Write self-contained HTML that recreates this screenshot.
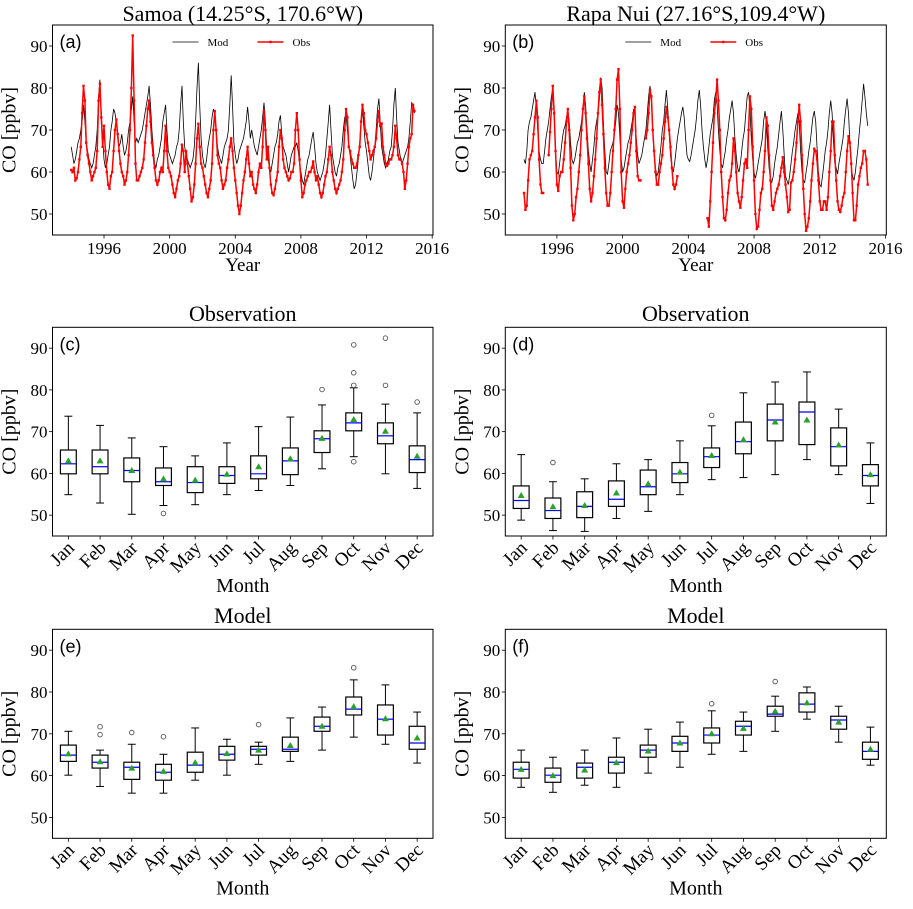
<!DOCTYPE html>
<html><head><meta charset="utf-8"><style>
html,body{margin:0;padding:0;background:#fff;}
svg text{font-family:"Liberation Serif",serif;fill:#000;}
</style></head><body>
<svg id="fig" xmlns="http://www.w3.org/2000/svg" width="913" height="904" viewBox="0 0 913 904"></svg>
<script>
const months=['Jan','Feb','Mar','Apr','May','Jun','Jul','Aug','Sep','Oct','Nov','Dec'];
const yTicks=[50,60,70,80,90];
const yearTicks=[1996,2000,2004,2008,2012,2016];
const startYear=1994;
const samoaObs=[
60.5,60,61,58,58.5,60,63,66,74,80.5,77,67,
64,62,60,58,59,60,61,65,77,81,73,66,
71,65,60,57,56,59,60,65,70,72.5,69,65,
62,60,59,57,58,60,64,70,80,92.5,77,62,
58,58,59,60,61,63,67,71,75,77,72,67,
64,61,58,57,58,60,61,60,65,71,65,61,
60,59,57,55,54,56,58,59,62,66.5,65,60,
65,62,59,56,53,54,57,62,68,71.5,66,62,
61,59,57,55,54,56,58,62,70,74.5,70,64,
62,61,58,56,57,58,61,63,66,68,65,61,
58,55,52,50,52,55,58,60,63,66,62,59,
60,57,56,55,57,60,62,61,66,74.5,70,63,
66,61,57,55,54.5,56,58,60,66,70,68,63,
61,60,59,58,58.5,60,60,62,70,74,70,63,
58,54,55,57,58,59,60,60,61,62.5,60,58,
59,57,55,54,55,57,59,60,63,66,64,60,
58,56,55,56,57,58,60,63,70,75,73,66,
65,63,62,61,61,62,64,66,72,76,74,70,
69,67,65,63,64,65,66,68,72,74.5,71,71.5,
66,64,62,61.5,62,63,63,64,66,71,68,64,
63,63,62,60,56,58,62,66,68,69,76,74.5];
const samoaMod=[
66,64,62,63,65,67,68,70,72,76,72,67,
65,63,62,61,62,64,66,70,78,82,74,68,
63,61,62,64,66,70,72,75,74,72,68,66,
67,69,66,64,65,67,70,72,75,78,72,67,
68,67,68,69,70,72,74,76,78,80.5,76,70,
66,62,61,63,64,66,68,72,74,76,70,65,
64,63,62,63,64,66,67,70,76,80.5,72,66,
64,63,62,61,62,63,66,72,80,86,76,68,
64,62,61,63,66,68,70,73,75,74,70,66,
64,63,62,64,66,67,68,70,76,83,76,67,
64,62,63,65,66,67,68,70,72,75.5,72,68,
70,68,66,65,64,66,68,70,73,76.5,72,66,
63,61,60,62,64,66,67,69,72,73.5,69,66,
65,64,62,60,62,64,65,66,66,67,65,62,
60,58,57,59,61,63,64,66,68,69.5,66,62,
60,59,58,59,60,62,64,68,72,76,70,64,
62,60,59,61,62,64,66,70,73,73.5,70,66,
64,61,58,56,57,60,63,67,72,75,71,67,
65,62,59,58,60,63,66,70,75,77.5,72,66,
64,62,61,62,63,65,66,70,76,80,73,67,
65,63,62,63,64,65,66,68,72,76.5,76,74];
const rapaObs=[
55,51,52,58,63,64,65,69,73,77,73,63,
57,55,55,null,null,null,64,69.5,75,80.5,74,65,
57,55.5,59,60,60,63,67,72,75,70,61,52,
48.5,50,54,56,60,64,70,75,78,74,68,62,
56,53,55,59,63,68,74,79,82,76,69,61,
55,52,52,55,60,65,70,75,82,84.5,75,60,
53,51.5,56,60,62,64,67,70,74,75.5,65,59,
58,58,null,null,null,68,70,74,79.5,78,70,65,
60,57,57,60,62,64,68,72,75.5,73,70,66,
61,57,56,57,59,null,null,null,null,null,null,null,
null,null,null,null,null,null,null,null,null,null,null,null,
null,null,49,47,53,60,67,74,77,82,77,70,
60,54,49,48.5,51,55,58,59,62,68,65,60,
55,53,51.5,54,58,62,63,61,70,78,75,66,
58,50,46.5,47,51,55,56,60,65,73,71,64,
58,52,51,53,55,56,57,59,61,63.5,60,57,
54,50.5,51,57.5,58,60,63,67,72,76,72,64,
56,50,46,47,49,53,58,62,65.5,65,63,58,
53,51,51,53,53,51,54,60,65,72,72,64,
58,53,51,50.5,52,54,55,60,65,68.5,67,62,
55,48.5,48.5,52,57,59,61,62,65,65,63,57];
const rapaMod=[
63,62,65,70,72,73,75,77,79,75,70,65,
63,62,62,65,68,70,72,75,78,80,73,65,
60,59.5,62,65,68,70,71,73,75,72,67,63,
62,63,65,67,68,70,72,75,79,76,70,65,
62,60,63,66,70,72,74,77,82.5,80,72,65,
60,59.5,62,65,66,67,69,72,76,74,68,63,
60,61,63,65,67,68,70,72,75,74,68,64,
62,63,64,66,68,70,74,78,80.5,77,70,64,
61,59,60,63,66,70,72,76,79.5,75,69,64,
61,60,62,65,68,70,72,74,75.5,73,68,64,
63,62.5,64,66,68,70,73,77,79.5,76,70,66,
63,61,63,66,69,71,73,77,79,76,70,65,
62,61,63,65,68,70,73,75,77,74,68,64,
61,60,62,65,68,70,74,78,79,75,68,63,
60,58.5,60,62,64,66,68,72,74.5,72,66,61,
58,57.5,59,62,64,66,69,72,74.5,70,64,59,
58,57,59,62,65,67,70,72,74,72,65,60,
58,57.5,60,62,65,67,70,73,74.5,72,66,60,
57,56.5,59,62,65,67,70,74,77,74,67,62,
61,59.5,62,64,66,68,72,75,77.5,74,67,61,
59,58,60,63,66,70,73,77,81,78,74,71];
const cLo=[54.9,52.9,50.2,52.3,52.5,54.9,55.9,57.1,61.1,64.0,59.9,56.4];
const cQ1=[59.9,59.9,58.0,57.1,55.4,57.6,58.7,59.7,65.0,70.2,67.1,60.2];
const cMed=[62.3,61.6,60.7,58.0,57.8,59.5,59.9,63.0,68.3,72.1,69.0,63.3];
const cQ3=[65.6,65.6,63.7,61.3,61.6,61.6,64.2,66.1,70.2,74.5,72.1,66.6];
const cHi=[73.7,71.5,68.5,66.4,64.2,67.3,71.2,73.5,76.4,80.5,76.6,74.5];
const cMean=[63.0,63.0,60.7,58.7,58.4,59.8,61.6,63.5,68.4,72.9,70.1,64.1];
const cOut=[[],[],[],[50.4],[],[],[],[],[80.1],[62.8,81.1,84.1,90.8],[81.1,92.4],[77.1]];
const dLo=[48.8,46.3,46.1,49.2,50.9,54.9,58.5,59.0,59.7,63.3,59.7,52.8];
const dQ1=[51.6,49.2,49.4,52.1,54.9,57.8,61.4,64.7,67.8,66.9,61.8,57.0];
const dMed=[53.5,51.1,52.1,53.8,56.8,59.9,64.0,67.6,72.8,74.7,66.4,59.5];
const dQ3=[57.0,54.1,55.6,58.2,60.8,62.6,66.1,72.3,76.6,77.1,70.9,62.1];
const dHi=[64.5,58.0,58.7,62.3,63.3,67.8,71.4,79.3,81.9,84.3,75.4,67.3];
const dMean=[54.7,52.0,52.3,55.3,57.5,60.3,64.3,68.1,72.3,72.8,66.8,59.7];
const dOut=[[],[62.6],[],[],[],[],[73.9],[],[],[],[],[]];
const eLo=[60.1,57.4,55.8,55.8,58.9,60.1,62.7,63.4,66.1,69.2,67.5,63.0];
const eQ1=[63.4,61.8,59.1,58.9,60.8,63.7,64.9,65.8,70.6,74.5,69.7,66.3];
const eMed=[64.9,63.2,62.0,60.8,62.5,65.1,66.3,66.3,71.8,75.9,73.5,67.8];
const eQ3=[67.3,64.9,63.2,62.7,65.6,67.0,67.0,69.2,74.0,78.8,76.9,71.8];
const eHi=[70.6,66.1,67.5,65.1,71.4,68.7,68.0,73.8,76.4,82.9,81.7,75.2];
const eMean=[65.2,63.3,61.8,61.0,63.1,65.3,66.1,67.2,71.8,76.5,73.6,69.0];
const eOut=[[],[69.8,71.7],[70.3],[69.3],[],[],[72.2],[],[],[85.8],[],[]];
const fLo=[57.2,56.0,57.7,57.2,60.6,62.0,65.1,65.8,70.6,73.5,68.0,62.5];
const fQ1=[59.4,58.4,59.4,60.6,64.4,65.8,67.8,69.7,74.2,75.2,71.1,63.9];
const fMed=[61.5,60.1,62.0,63.2,66.1,67.8,69.7,71.8,74.7,77.1,73.3,65.8];
const fQ3=[63.2,61.8,63.0,64.4,67.3,69.4,71.4,73.0,76.6,79.8,74.2,68.0];
const fHi=[66.1,64.4,66.1,69.0,71.1,72.8,75.5,75.2,79.0,81.2,76.6,71.6];
const fMean=[61.5,60.0,61.3,63.1,65.9,67.8,70.0,71.3,75.4,77.4,72.8,66.3];
const fOut=[[],[],[],[],[],[],[77.2],[],[82.5],[],[],[]];

const NS='http://www.w3.org/2000/svg';
const svg=document.getElementById('fig');
function mk(tag,attrs,parent){const e=document.createElementNS(NS,tag);for(const k in attrs)e.setAttribute(k,attrs[k]);(parent||svg).appendChild(e);return e;}
const YMIN=45,YMAX=95;
function frame(ax,title,titleY,label,name){
  const g=mk('g',{});
  
  
  const sy=v=>ax.y1-(v-YMIN)/(YMAX-YMIN)*(ax.y1-ax.y0);
  ax.sy=sy;
  yTicks.forEach(v=>{
    const y=sy(v);
    mk('line',{x1:ax.x0-3.5,x2:ax.x0,y1:y,y2:y,stroke:'#000','stroke-width':0.8},g);
    const t=mk('text',{x:ax.x0-5,y:y+6,'text-anchor':'end','font-size':17},g);
    t.textContent=v;
    
    
  });
  const yl=mk('text',{x:0,y:0,'text-anchor':'middle','font-size':20,transform:`translate(${ax.x0-37},${(ax.y0+ax.y1)/2}) rotate(-90)`},g);
  yl.textContent='CO [ppbv]';
  
  
  const tt=mk('text',{x:(ax.x0+ax.x1)/2,y:titleY,'text-anchor':'middle','font-size':22},g);
  tt.textContent=title;
  
  
  const pl=mk('text',{x:ax.x0+7,y:ax.y0+23,'font-size':18,style:'font-family:"Liberation Sans",sans-serif'},g);
  pl.textContent=label;
  
  
  return g;
}
function border(ax,g){mk('rect',{x:ax.x0,y:ax.y0,width:ax.x1-ax.x0,height:ax.y1-ax.y0,fill:'none',stroke:'#000','stroke-width':1},g);}

function timePanel(ax,title,label,mod,obs,name){
  const g=frame(ax,title,21,label,name);
  const X0=1992.86,X1=2016.05;
  const sx=v=>ax.x0+(v-X0)/(X1-X0)*(ax.x1-ax.x0);
  yearTicks.forEach(v=>{
    const x=sx(v);
    mk('line',{x1:x,x2:x,y1:ax.y1,y2:ax.y1+3.5,stroke:'#000','stroke-width':0.8},g);
    const t=mk('text',{x:x,y:ax.y1+19,'text-anchor':'middle','font-size':17},g);
    t.textContent=v;
    
    
  });
  const xl=mk('text',{x:(ax.x0+ax.x1)/2,y:ax.y1+36,'text-anchor':'middle','font-size':19},g);
  xl.textContent='Year';
  
  
  let d='';
  mod.forEach((v,i)=>{if(v==null)return;const x=sx(startYear+i/12),y=ax.sy(v);d+=(d?'L':'M')+x.toFixed(1)+','+y.toFixed(1);});
  const ml=mk('path',{d:d,fill:'none',stroke:'#000','stroke-width':0.8},g);
  
  
  let d2='',pen=false;
  obs.forEach((v,i)=>{if(v==null){pen=false;return;}const x=sx(startYear+i/12),y=ax.sy(v);d2+=(pen?'L':'M')+x.toFixed(1)+','+y.toFixed(1);pen=true;});
  const ol=mk('path',{d:d2,fill:'none',stroke:'#ff0000','stroke-width':1.5},g);
  
  
  obs.forEach((v,i)=>{if(v==null)return;
    const c=mk('rect',{x:sx(startYear+i/12)-1.2,y:ax.sy(v)-1.2,width:2.4,height:2.4,fill:'#ff0000'},g);
    
    
  });
  const lg=mk('g',{},g);
  
  
  const lx=ax.x0, ly=ax.y0+17;
  mk('line',{x1:lx+120,x2:lx+146,y1:ly,y2:ly,stroke:'#000','stroke-width':0.8},lg);
  const t1=mk('text',{x:lx+155,y:ly+4,'font-size':11},lg);t1.textContent='Mod';
  
  
  mk('line',{x1:lx+205,x2:lx+231,y1:ly,y2:ly,stroke:'#ff0000','stroke-width':1.5},lg);
  mk('rect',{x:lx+216.8,y:ly-1.2,width:2.4,height:2.4,fill:'#ff0000'},lg);
  const t2=mk('text',{x:lx+240,y:ly+4,'font-size':11},lg);t2.textContent='Obs';
  
  
  border(ax,g);
}

function boxPanel(ax,title,titleY,label,lo,q1,med,q3,hi,mean,outs,name){
  const g=frame(ax,title,titleY,label,name);
  const sx=i=>ax.x0+(i+0.5)/12*(ax.x1-ax.x0);
  const bw=(ax.x1-ax.x0)/12*0.5;
  months.forEach((m,i)=>{
    const x=sx(i);
    mk('line',{x1:x,x2:x,y1:ax.y1,y2:ax.y1+3.5,stroke:'#000','stroke-width':0.8},g);
    const t=mk('text',{x:0,y:0,'text-anchor':'end','font-size':19,transform:`translate(${x+7},${ax.y1+13}) rotate(-45)`},g);
    t.textContent=m;
    
    
    const b=mk('g',{},g);
    
    
    mk('line',{x1:x,x2:x,y1:ax.sy(hi[i]),y2:ax.sy(q3[i]),stroke:'#000','stroke-width':1},b);
    mk('line',{x1:x,x2:x,y1:ax.sy(q1[i]),y2:ax.sy(lo[i]),stroke:'#000','stroke-width':1},b);
    mk('line',{x1:x-bw/4,x2:x+bw/4,y1:ax.sy(hi[i]),y2:ax.sy(hi[i]),stroke:'#000','stroke-width':1},b);
    mk('line',{x1:x-bw/4,x2:x+bw/4,y1:ax.sy(lo[i]),y2:ax.sy(lo[i]),stroke:'#000','stroke-width':1},b);
    mk('rect',{x:x-bw/2,y:ax.sy(q3[i]),width:bw,height:ax.sy(q1[i])-ax.sy(q3[i]),fill:'none',stroke:'#000','stroke-width':1.2},b);
    mk('line',{x1:x-bw/2,x2:x+bw/2,y1:ax.sy(med[i]),y2:ax.sy(med[i]),stroke:'#0000ff','stroke-width':1.2},b);
    const my=ax.sy(mean[i]);
    const tri=mk('polygon',{points:`${x},${my-3.5} ${x-3.5},${my+2.5} ${x+3.5},${my+2.5}`,fill:'#2ca02c'},b);
    
    
    outs[i].forEach(v=>{
      const c=mk('circle',{cx:x,cy:ax.sy(v),r:2.3,fill:'none',stroke:'#555','stroke-width':0.9},b);
      
      
    });
  });
  const xl=mk('text',{x:(ax.x0+ax.x1)/2,y:ax.y1+56,'text-anchor':'middle','font-size':20},g);
  xl.textContent='Month';
  
  
  border(ax,g);
}
const L={x0:52.5,x1:433}, R={x0:505.3,x1:886.3};
timePanel({...L,y0:25,y1:235},'Samoa (14.25°S, 170.6°W)','(a)',samoaMod,samoaObs,'panel-a-samoa-timeseries');
timePanel({...R,y0:25,y1:235},'Rapa Nui (27.16°S,109.4°W)','(b)',rapaMod,rapaObs,'panel-b-rapanui-timeseries');
boxPanel({...L,y0:327.3,y1:536},'Observation',321,'(c)',cLo,cQ1,cMed,cQ3,cHi,cMean,cOut,'panel-c-samoa-obs-box');
boxPanel({...R,y0:327.3,y1:536},'Observation',321,'(d)',dLo,dQ1,dMed,dQ3,dHi,dMean,dOut,'panel-d-rapanui-obs-box');
boxPanel({...L,y0:629.3,y1:838.3},'Model',623,'(e)',eLo,eQ1,eMed,eQ3,eHi,eMean,eOut,'panel-e-samoa-model-box');
boxPanel({...R,y0:629.3,y1:838.3},'Model',623,'(f)',fLo,fQ1,fMed,fQ3,fHi,fMean,fOut,'panel-f-rapanui-model-box');
</script>
</body></html>
